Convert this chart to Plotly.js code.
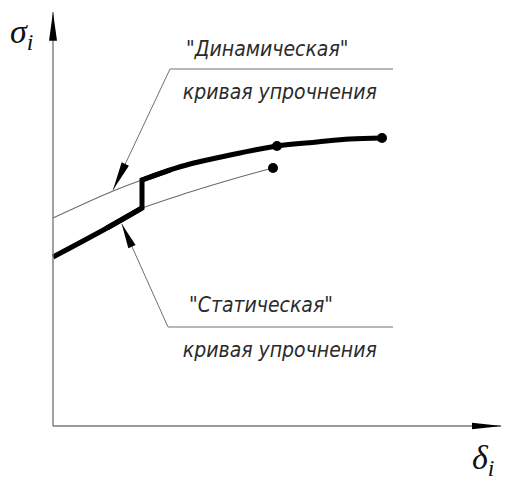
<!DOCTYPE html>
<html>
<head>
<meta charset="utf-8">
<script src="https://cdn.plot.ly/plotly-3.0.1.min.js"></script>
<style>
  html, body { margin: 0; padding: 0; background: #fff; }
  #chart { width: 510px; height: 485px; }
  #chart .annotation-text.cap { font-stretch: condensed; }
</style>
</head>
<body>
<div id="chart"></div>
<script>
// Hardening curves, strain δi vs. stress σi (arbitrary units)
const dynDelta  = [0, 1.5, 2.225, 2.925, 3.425, 4.675, 5.6, 6.6, 7.425, 8.225];
const dynSigma  = [5.2, 5.875, 6.15, 6.4, 6.55, 6.825, 7.0, 7.1, 7.175, 7.2];
const statDelta = [0, 1.35, 2.225, 3.425, 4.675, 5.5];
const statSigma = [4.225, 4.95, 5.45, 5.85, 6.225, 6.45];
// strain at which loading switches from the static to the dynamic curve
const switchDelta = 2.225;

const dynLabel  = '"Динамическая"';
const statLabel = '"Статическая"';
const curveLabel = 'кривая упрочнения';

function split(xs, ys, at, before) {
  const ox = [], oy = [];
  xs.forEach((x, i) => {
    if (before ? x <= at : x >= at) { ox.push(x); oy.push(ys[i]); }
  });
  return [ox, oy];
}

const [dynThinX, dynThinY]   = split(dynDelta, dynSigma, switchDelta, true);
const [dynThickX, dynThickY] = split(dynDelta, dynSigma, switchDelta, false);
const [stThickX, stThickY]   = split(statDelta, statSigma, switchDelta, true);
const [stThinX, stThinY]     = split(statDelta, statSigma, switchDelta, false);

const thin = { color: '#6a6a6a', width: 1.1, shape: 'spline' };
const thick = { color: '#000', width: 5, shape: 'spline' };
const n = stThickX.length;
const traces = [
  { x: dynThinX, y: dynThinY, mode: 'lines', line: thin, hoverinfo: 'skip' },
  { x: stThinX, y: stThinY, mode: 'lines', line: thin, hoverinfo: 'skip' },
  // actual loading path: static curve, jump, then dynamic curve
  { x: stThickX, y: stThickY, mode: 'lines', line: thick, hoverinfo: 'skip' },
  { x: dynThickX, y: dynThickY, mode: 'lines', line: thick, hoverinfo: 'skip' },
  { x: [stThickX[n - 2], stThickX[n - 1], dynThickX[0], dynThickX[1]],
    y: [stThickY[n - 2], stThickY[n - 1], dynThickY[0], dynThickY[1]],
    mode: 'lines', line: { color: '#000', width: 5, shape: 'linear' }, hoverinfo: 'skip' },
  // end points of the curves
  { x: [dynDelta[6], dynDelta[dynDelta.length - 1], statDelta[statDelta.length - 1]],
    y: [dynSigma[6], dynSigma[dynSigma.length - 1], statSigma[statSigma.length - 1]],
    mode: 'markers', marker: { color: '#000', size: 10 }, hoverinfo: 'skip' }
];

// narrow filled arrowhead pointing at (tx,ty), coming from (fx,fy)
function head(tx, ty, fx, fy, len, hw) {
  const dx = fx - tx, dy = fy - ty, d = Math.hypot(dx, dy);
  const ux = dx / d, uy = dy / d;
  const bx = tx + ux * len, by = ty + uy * len;
  const nx = -uy * hw, ny = ux * hw;
  return { type: 'path', xref: 'x', yref: 'y',
    path: `M${tx},${ty} L${bx + nx},${by + ny} L${bx - nx},${by - ny} Z`,
    fillcolor: '#000', line: { width: 0 } };
}
function seg(x0, y0, x1, y1, color, width) {
  return { type: 'line', xref: 'x', yref: 'y', x0, y0, x1, y1, line: { color, width } };
}

const axisCol = '#7a7a7a';
const leadCol = '#707070';
const shapes = [
  seg(0, 0, 0, 10.35, axisCol, 1.4),
  seg(0, 0, 11.2, 0, axisCol, 1.4),
  head(0, 10.35, 0, 0, 0.72, 0.1),
  head(11.225, 0, 0, 0, 0.75, 0.08),
  // leader to the dynamic curve
  seg(2.925, 8.925, 8.5, 8.925, leadCol, 1),
  seg(2.925, 8.925, 1.5, 5.9, leadCol, 1),
  head(1.5, 5.9, 2.925, 8.925, 0.72, 0.1),
  // leader to the static curve
  seg(2.875, 2.475, 8.5, 2.475, leadCol, 1),
  seg(2.875, 2.475, 1.72, 5.05, leadCol, 1),
  head(1.72, 5.05, 2.875, 2.475, 0.62, 0.1)
];

const txtFont = { family: 'DejaVu Sans', size: 21, color: '#2a2a2a', style: 'italic', weight: 300 };
const greek = { family: 'Liberation Serif, DejaVu Serif, serif', size: 34, color: '#111', style: 'italic' };
function label(text, x, y, font) {
  return { text, x, y, xref: 'x', yref: 'y', showarrow: false, font, xanchor: 'center', yanchor: 'middle' };
}
const annotations = [
  label(dynLabel, 5.35, 9.425, txtFont),
  label(curveLabel, 5.675, 8.35, txtFont),
  label(statLabel, 5.2, 3.025, txtFont),
  label(curveLabel, 5.675, 1.9, txtFont),
  label('σ<sub>i</sub>', -0.8, 9.8, greek),
  label('δ<sub>i</sub>', 10.75, -0.85, greek)
];

const layout = {
  width: 510, height: 485,
  margin: { l: 0, r: 0, t: 0, b: 0 },
  paper_bgcolor: '#fff', plot_bgcolor: '#fff',
  showlegend: false,
  xaxis: { range: [-1.325, 11.425], visible: false, fixedrange: true },
  yaxis: { range: [-1.475, 10.65], visible: false, fixedrange: true },
  shapes, annotations
};

Plotly.newPlot('chart', traces, layout, { staticPlot: true, displayModeBar: false }).then(gd => {
  // condensed face for the drafting captions
  gd.querySelectorAll('.annotation-text').forEach((t, i) => {
    if (i < 4) t.classList.add('cap');
  });
});
</script>
</body>
</html>
